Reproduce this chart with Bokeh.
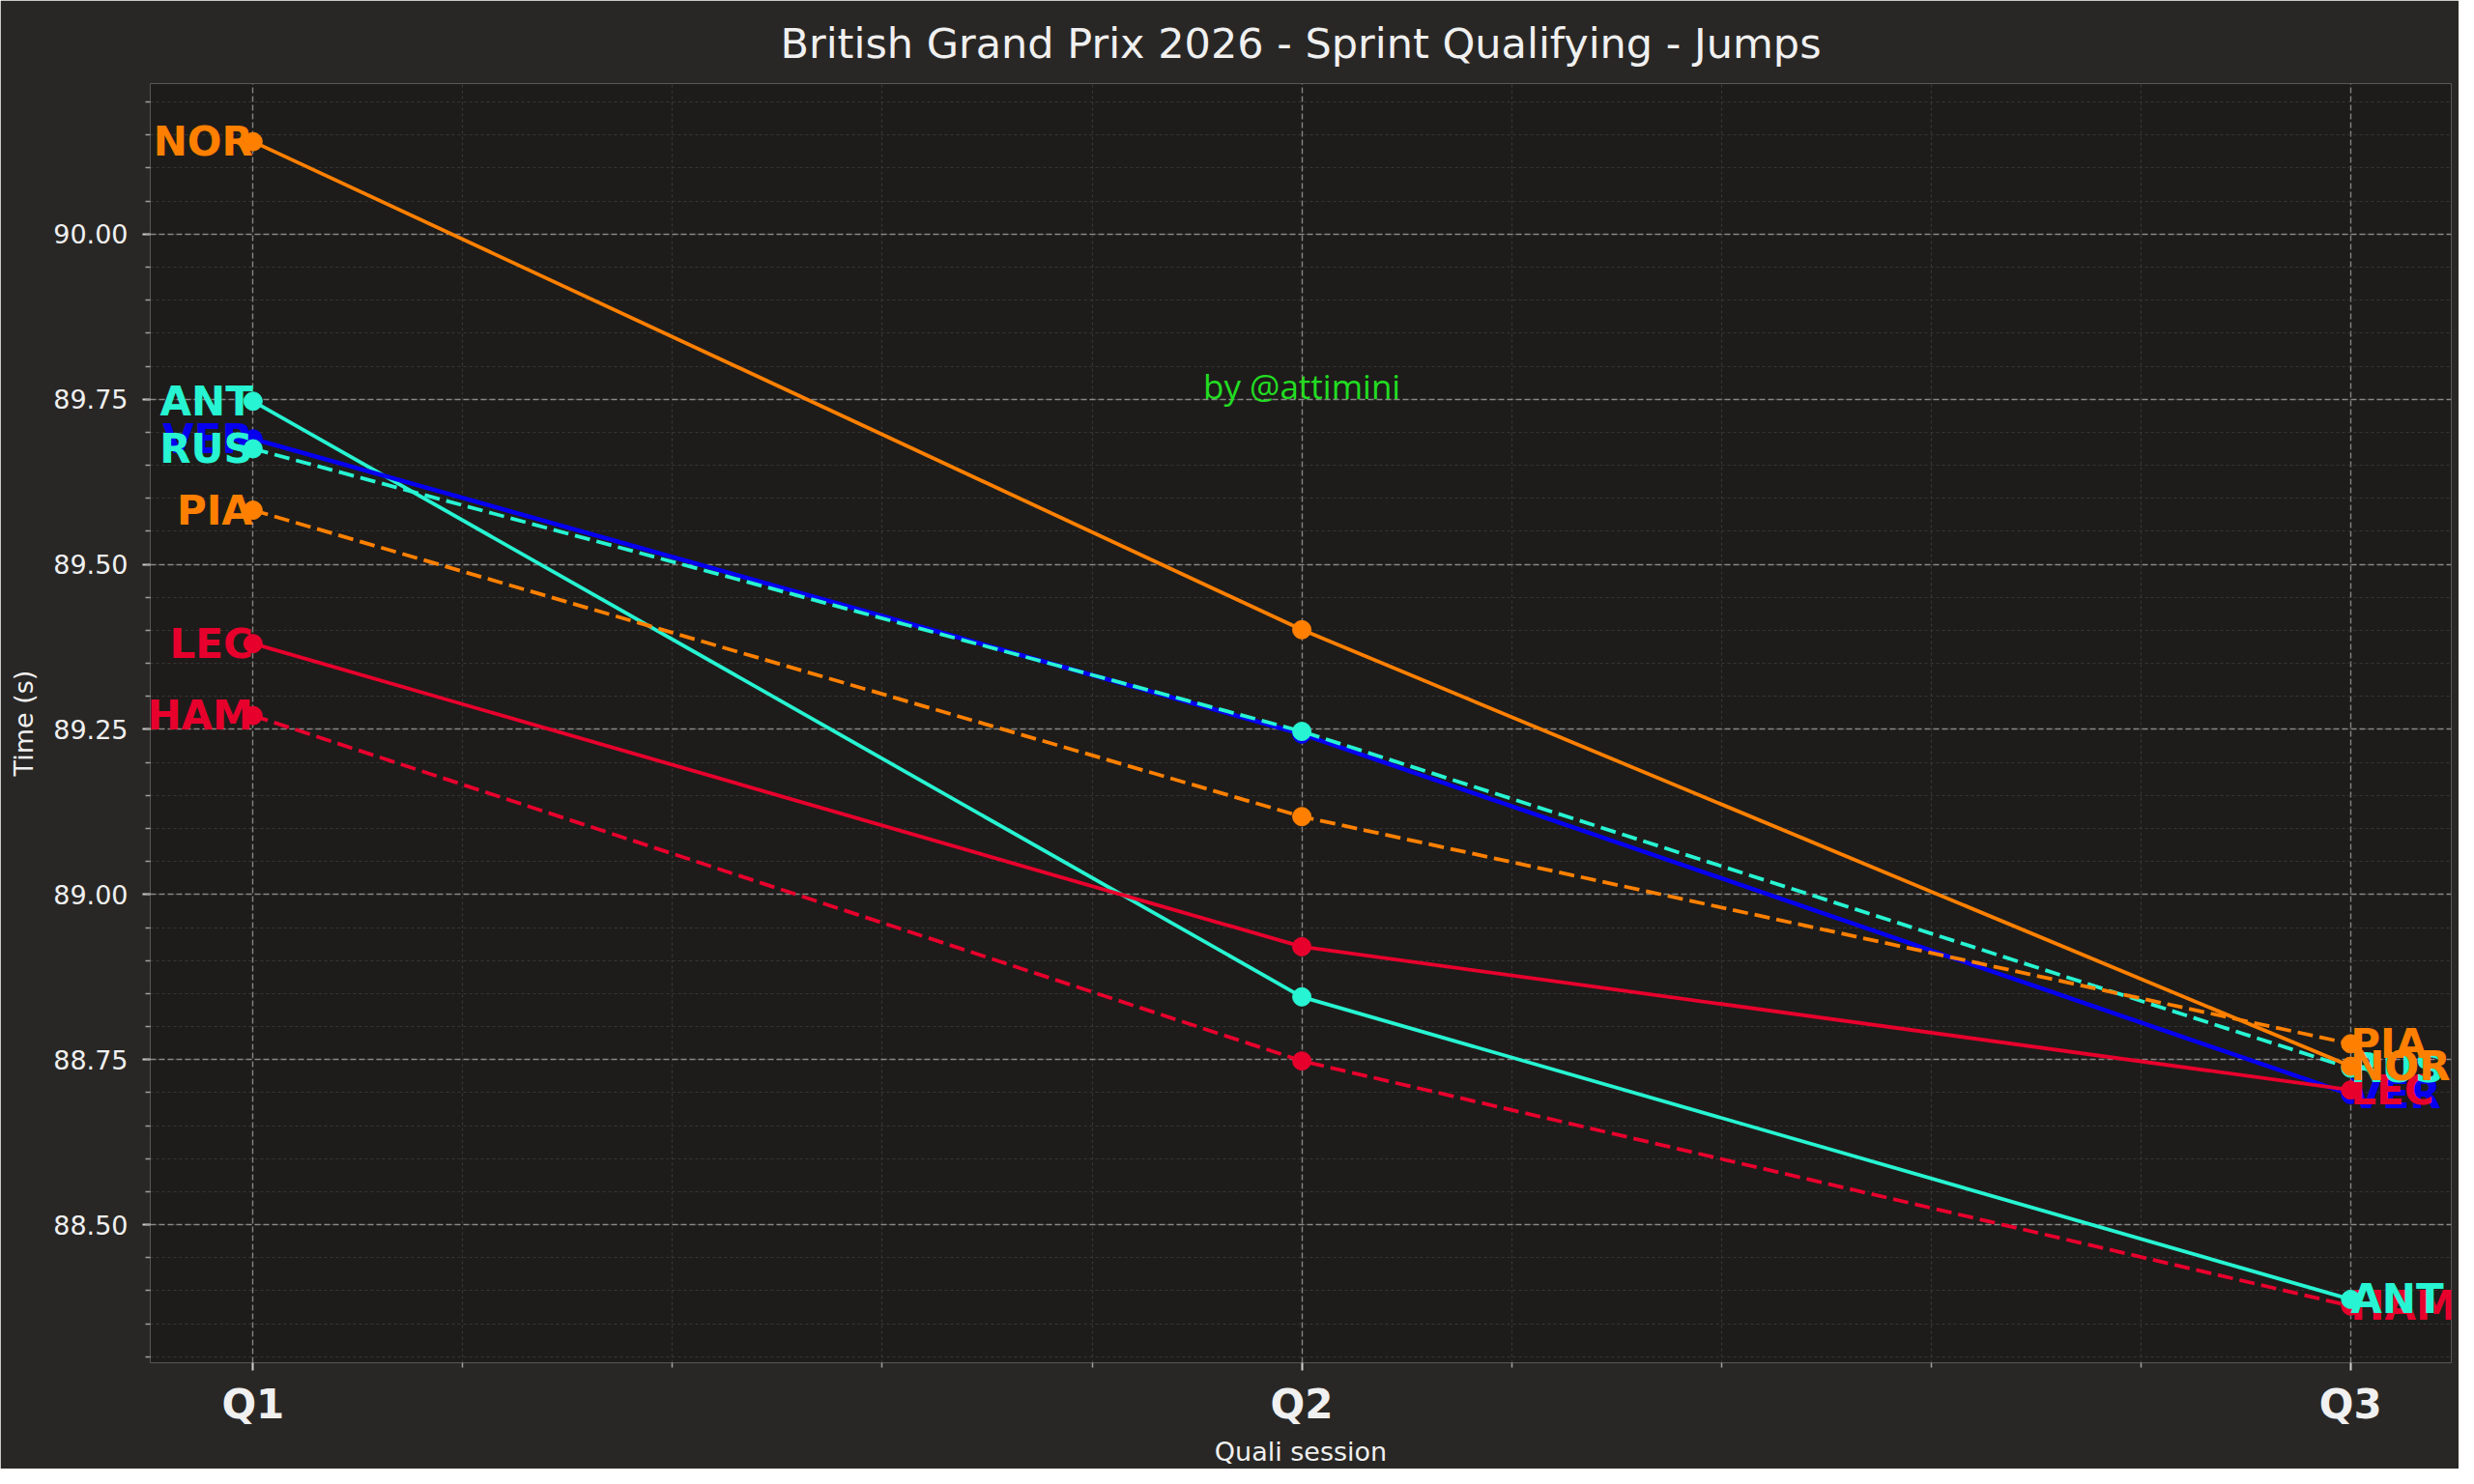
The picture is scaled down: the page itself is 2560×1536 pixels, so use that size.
from bokeh.plotting import figure
from bokeh.models import ColumnDataSource, Range1d, SingleIntervalTicker, FixedTicker, Label, PrintfTickFormatter
from bokeh.core.properties import value
from bokeh.embed import file_html
from bokeh.resources import INLINE

# ---------------- data ----------------
sessions = ["Q1", "Q2", "Q3"]
session_idx = [0, 1, 2]
x_minor_ticks = [0.2, 0.4, 0.6, 0.8, 1.2, 1.4, 1.6, 1.8]

# drawing order (fastest in final session first)
drivers = ["HAM", "ANT", "VER", "LEC", "RUS", "NOR", "PIA"]
times = {
    "HAM": [89.271, 88.748, 88.377],
    "ANT": [89.747, 88.845, 88.387],
    "VER": [89.690, 89.243, 88.697],
    "LEC": [89.380, 88.921, 88.704],
    "RUS": [89.675, 89.247, 88.737],
    "NOR": [90.140, 89.401, 88.740],
    "PIA": [89.582, 89.118, 88.774],
}
colors = {
    "HAM": "#E8002D", "LEC": "#E8002D",
    "ANT": "#27F4D2", "RUS": "#27F4D2",
    "VER": "#0600EF",
    "NOR": "#FF8000", "PIA": "#FF8000",
}
dashed = {"HAM": True, "ANT": False, "VER": False, "LEC": False,
          "RUS": True, "NOR": False, "PIA": True}

title_text = "British Grand Prix 2026 - Sprint Qualifying - Jumps"
x_label = "Quali session"
y_label = "Time (s)"
watermark = "by @attimini"

# ---------------- figure ----------------
OUTER = "#292725"
INNER = "#1e1c1a"
TXT = "#f0f0f0"

p = figure(width=2544, height=1520, output_backend="svg", toolbar_location=None,
           x_range=Range1d(-0.098, 2.096), y_range=Range1d(88.291, 90.228),
           min_border_left=155, min_border_right=8, min_border_top=85, min_border_bottom=104,
           background_fill_color=INNER, border_fill_color=OUTER, outline_line_color=None)

p.title.text = title_text
p.title.text_font = "DejaVu Sans"
p.title.text_font_size = "43px"
p.title.text_font_style = "normal"
p.title.text_color = TXT
p.title.align = "center"
p.title.vertical_align = "bottom"
p.title.standoff = 34

# axes
p.xaxis.ticker = FixedTicker(ticks=session_idx, minor_ticks=x_minor_ticks)
p.xaxis.major_label_overrides = {i: s for i, s in zip(session_idx, sessions)}
p.yaxis.ticker = SingleIntervalTicker(interval=0.25, num_minor_ticks=5)
p.yaxis.formatter = PrintfTickFormatter(format="%.2f")

for ax in (p.xaxis, p.yaxis):
    ax.axis_line_color = None
    ax.major_tick_line_color = "#d0d0d0"
    ax.minor_tick_line_color = "#a0a0a0"
    ax.major_tick_line_width = 2
    ax.minor_tick_line_width = 1.5
    ax.major_tick_out = 8
    ax.major_tick_in = 0
    ax.minor_tick_out = 5
    ax.minor_tick_in = 0
    ax.major_label_text_color = TXT
    ax.major_label_text_font = "DejaVu Sans"
    ax.axis_label_text_color = TXT
    ax.axis_label_text_font = "DejaVu Sans"
    ax.axis_label_text_font_size = "27px"
    ax.axis_label_text_font_style = "normal"

p.xaxis.major_label_standoff = 10
p.yaxis.major_label_standoff = 15
p.xaxis.axis_label = x_label
p.yaxis.axis_label = y_label
p.xaxis.major_label_text_font_size = "42px"
p.xaxis.major_label_text_font_style = "bold"
p.yaxis.major_label_text_font_size = "27px"
p.xaxis.axis_label_standoff = 6
p.yaxis.axis_label_standoff = 12

# grids
for g in (p.xgrid, p.ygrid):
    g.grid_line_color = "#a8a8a8"
    g.grid_line_alpha = 0.75
    g.grid_line_width = 1.4
    g.grid_line_dash = "6 3"
    g.minor_grid_line_color = "#383634"
    g.minor_grid_line_alpha = 1.0
    g.minor_grid_line_width = 1.2
    g.minor_grid_line_dash = "3 3"

# watermark
p.add_layout(Label(x=1, y=89.77, text=watermark, text_align="center",
                   text_baseline="middle", text_font="Open Sans",
                   text_font_size="35px", text_color="#22dd22"))

# lines, markers, labels
for d in drivers:
    ys = times[d]
    src = ColumnDataSource(dict(x=session_idx, y=ys))
    p.line("x", "y", source=src, line_color=colors[d],
           line_width=4.5 if d == "VER" else 3.8,
           line_dash="16 7" if dashed[d] else "solid")
    p.scatter("x", "y", source=src, marker="circle", size=19,
              fill_color=colors[d], line_color=colors[d])
    lab_l = ColumnDataSource(dict(x=[session_idx[0]], y=[ys[0]], t=[d]))
    lab_r = ColumnDataSource(dict(x=[session_idx[-1]], y=[ys[-1]], t=[d]))
    p.text("x", "y", text="t", source=lab_l, text_align="right", text_baseline="middle",
           text_font=value("DejaVu Sans"), text_font_style="bold",
           text_font_size="42px", text_color=colors[d])
    p.text("x", "y", text="t", source=lab_r, text_align="left", text_baseline="middle",
           text_font=value("DejaVu Sans"), text_font_style="bold",
           text_font_size="42px", text_color=colors[d])

html = file_html(p, INLINE)
html = html.replace("<body>", '<body style="background:%s">' % OUTER, 1)
open("out.html", "w").write(html)
